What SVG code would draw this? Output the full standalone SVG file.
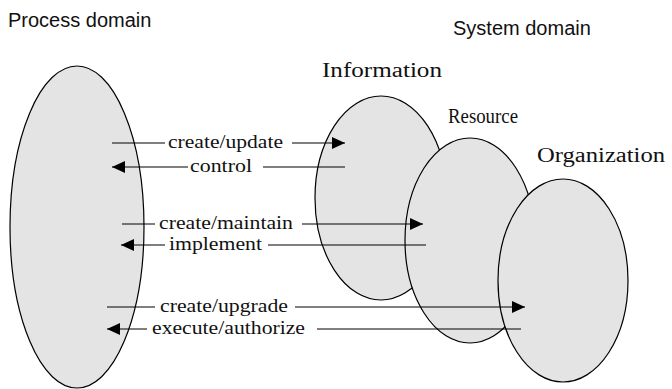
<svg xmlns="http://www.w3.org/2000/svg" width="672" height="389" viewBox="0 0 672 389">
  <style>
    .blob { fill: #e4e4e4; stroke: #000; stroke-width: 1.2; }
    .domain { font-family: "Liberation Sans", Arial, sans-serif; font-size: 20px; fill: #111; }
    .name { font-family: "Liberation Serif", "Times New Roman", serif; font-size: 20px; fill: #111; }
    .lbl { font-family: "Liberation Serif", "Times New Roman", serif; font-size: 18.5px; fill: #111; }
    .wire { stroke: #000; stroke-width: 1.1; fill: none; }
  </style>
  <defs>
    <marker id="head" markerWidth="13" markerHeight="12" refX="13" refY="6" orient="auto" markerUnits="userSpaceOnUse">
      <path d="M0,0 L13,6 L0,12 Z" fill="#000"/>
    </marker>
  </defs>
  <rect width="672" height="389" fill="#fff"/>

  <g id="process-domain">
    <text class="domain" x="8" y="27">Process domain</text>
    <ellipse class="blob" cx="77" cy="227" rx="67" ry="161"/>
  </g>

  <g id="system-domain">
    <text class="domain" x="453" y="35">System domain</text>
  </g>

  <g id="information">
    <text class="name" x="322" y="77" textLength="120" lengthAdjust="spacingAndGlyphs">Information</text>
    <ellipse class="blob" cx="381" cy="198" rx="66" ry="102"/>
  </g>

  <g id="resource">
    <text class="name" x="448" y="123" textLength="70" lengthAdjust="spacingAndGlyphs">Resource</text>
    <ellipse class="blob" cx="470" cy="240.5" rx="65" ry="102.5"/>
  </g>

  <g id="organization">
    <text class="name" x="537" y="162" textLength="128" lengthAdjust="spacingAndGlyphs">Organization</text>
    <ellipse class="blob" cx="563" cy="280.5" rx="65" ry="101.5"/>
  </g>

  <g id="connectors">
    <!-- create/update: process -> information -->
    <line class="wire" x1="112" y1="143" x2="165" y2="143"/>
    <line class="wire" x1="292" y1="143" x2="345" y2="143" marker-end="url(#head)"/>
    <text class="lbl" x="168" y="148" textLength="115" lengthAdjust="spacingAndGlyphs">create/update</text>

    <!-- control: information -> process -->
    <line class="wire" x1="188" y1="167" x2="112" y2="167" marker-end="url(#head)"/>
    <line class="wire" x1="263" y1="167" x2="345" y2="167"/>
    <text class="lbl" x="190" y="172" textLength="62" lengthAdjust="spacingAndGlyphs">control</text>

    <!-- create/maintain: process -> resource -->
    <line class="wire" x1="122" y1="224" x2="155" y2="224"/>
    <line class="wire" x1="302" y1="224" x2="423" y2="224" marker-end="url(#head)"/>
    <text class="lbl" x="159" y="229" textLength="134" lengthAdjust="spacingAndGlyphs">create/maintain</text>

    <!-- implement: resource -> process -->
    <line class="wire" x1="165" y1="245" x2="121" y2="245" marker-end="url(#head)"/>
    <line class="wire" x1="268" y1="245" x2="426" y2="245"/>
    <text class="lbl" x="169" y="250" textLength="93" lengthAdjust="spacingAndGlyphs">implement</text>

    <!-- create/upgrade: process -> organization -->
    <line class="wire" x1="107" y1="307" x2="155" y2="307"/>
    <line class="wire" x1="295" y1="307" x2="525" y2="307" marker-end="url(#head)"/>
    <text class="lbl" x="160" y="312" textLength="128" lengthAdjust="spacingAndGlyphs">create/upgrade</text>

    <!-- execute/authorize: organization -> process -->
    <line class="wire" x1="147" y1="329" x2="107" y2="329" marker-end="url(#head)"/>
    <line class="wire" x1="317" y1="329" x2="521" y2="329"/>
    <text class="lbl" x="152" y="334" textLength="153" lengthAdjust="spacingAndGlyphs">execute/authorize</text>
  </g>
</svg>
